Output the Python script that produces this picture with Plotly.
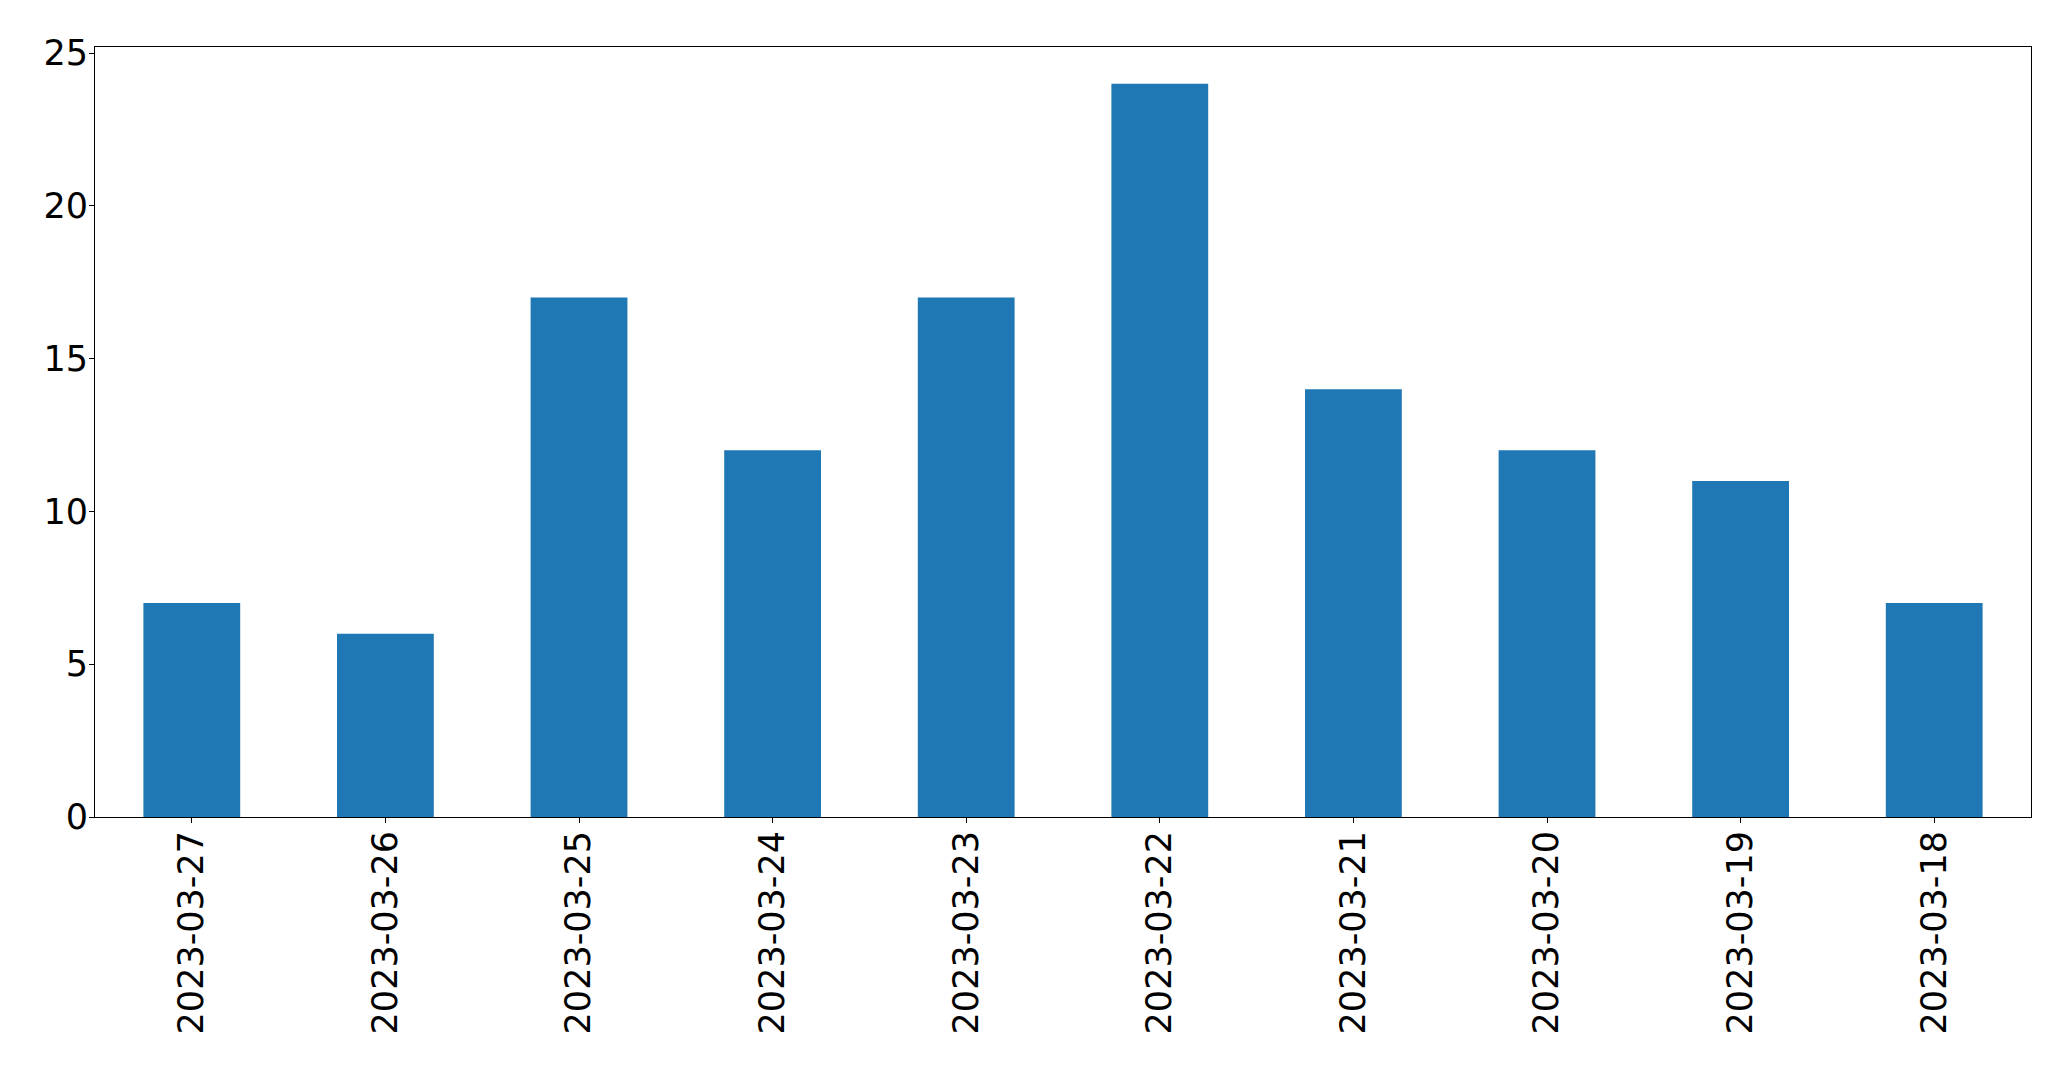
import plotly.graph_objects as go

dates = ["2023-03-27", "2023-03-26", "2023-03-25", "2023-03-24", "2023-03-23",
         "2023-03-22", "2023-03-21", "2023-03-20", "2023-03-19", "2023-03-18"]
counts = [7, 6, 17, 12, 17, 24, 14, 12, 11, 7]
y_ticks = [0, 5, 10, 15, 20, 25]

fig = go.Figure(go.Bar(x=list(range(len(dates))), y=counts, width=0.5,
                       marker=dict(color="#1f77b4", line=dict(width=0))))

fig.update_layout(
    width=2071, height=1069,
    margin=dict(l=87, r=48, t=39, b=260),
    paper_bgcolor="white", plot_bgcolor="white",
    font=dict(family="DejaVu Sans", size=35, color="black"),
    showlegend=False,
)
fig.update_xaxes(range=[-0.5, len(dates) - 0.5], tickmode="array",
                 tickvals=list(range(len(dates))), ticktext=dates, tickangle=-90,
                 showline=True, linecolor="black", linewidth=1, mirror=True,
                 ticks="outside", ticklen=5, tickcolor="black", tickwidth=1,
                 showgrid=False, zeroline=False, automargin=False,
                 ticklabelstandoff=-6)
fig.update_yaxes(range=[0, 25.2], tickmode="array", tickvals=y_ticks,
                 showline=True, linecolor="black", linewidth=1, mirror=True,
                 ticks="outside", ticklen=5, tickcolor="black", tickwidth=1,
                 showgrid=False, zeroline=False, automargin=False,
                 ticklabelstandoff=-6)

fig.write_html("out.html")
